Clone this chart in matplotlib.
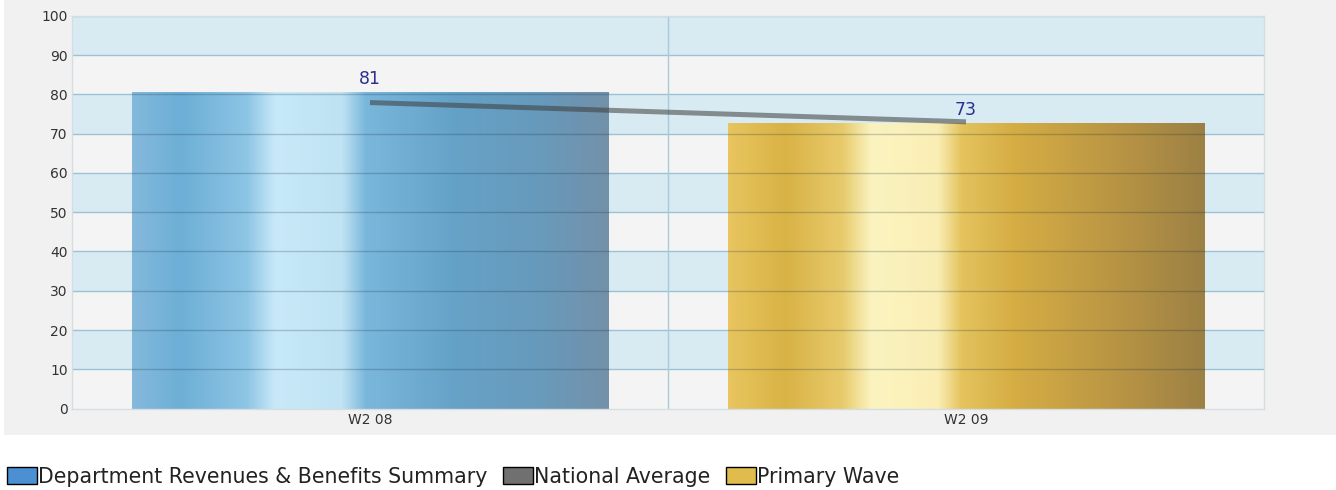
import numpy as np
import matplotlib
matplotlib.use("Agg")
import matplotlib.pyplot as plt
from matplotlib.colors import LinearSegmentedColormap
from matplotlib.patches import Patch, Rectangle

# chart data
categories = ["W2 08", "W2 09"]
bar_values = [80.6, 72.7]
national_avg = [77.9, 73.0]
legend_labels = ["Department Revenues & Benefits Summary", "National Average", "Primary Wave"]
yticks = list(range(0, 101, 10))

blue_stops = [(0.0, "#7cb5da"), (0.1, "#64aad4"), (0.24, "#86c2e4"), (0.3, "#c6e9f9"),
              (0.44, "#bde2f4"), (0.49, "#72b3da"), (0.68, "#5b9cc4"), (0.85, "#5e94b8"),
              (1.0, "#6a8aa4")]
gold_stops = [(0.0, "#e8c254"), (0.12, "#d8ae38"), (0.24, "#e8c862"), (0.3, "#fdf4bc"),
              (0.44, "#fbeeb0"), (0.49, "#e4c052"), (0.6, "#d4a836"), (0.8, "#b89036"),
              (1.0, "#967838")]

fig = plt.figure(figsize=(13.36, 4.9), dpi=100)
fig.patch.set_facecolor("white")
# grey panel behind the plot
fig.patches.append(Rectangle((4 / 1336, 55 / 490), 1, 1 - 55 / 490, transform=fig.transFigure,
                             facecolor="#f1f1f1", edgecolor="none", zorder=-1))

ax = fig.add_axes([72 / 1336, 1 - 408.7 / 490, (1264 - 72) / 1336, (408.7 - 15.7) / 490])
ax.set_zorder(2)

# alternating bands
for i in range(10):
    c = "#d8ebf2" if i % 2 == 1 else "#f4f4f4"
    ax.axhspan(i * 10, i * 10 + 10, color=c, zorder=0, lw=0)
for y in yticks[1:]:
    ax.axhline(y, color="#9cc3d3", lw=1, zorder=1)
ax.axvline(0.5, color="#a9cbd8", lw=1, zorder=1)

bars = ax.bar(range(len(categories)), bar_values, width=0.8, color="none", zorder=2)
for bar, stops in zip(bars, [blue_stops, gold_stops]):
    cmap = LinearSegmentedColormap.from_list("g", stops)
    x0, w = bar.get_x(), bar.get_width()
    h = bar.get_height()
    grad = np.linspace(0, 1, 256).reshape(1, -1)
    im = ax.imshow(grad, cmap=cmap, aspect="auto", extent=(x0, x0 + w, 0, h),
                   zorder=2, alpha=0.93, interpolation="bilinear")
    im.set_clip_path(bar)
    # grid showing through the glassy bar
    for y in yticks[1:]:
        if y < h:
            ax.plot([x0, x0 + w], [y, y], color="#203040", lw=1, alpha=0.22, zorder=2.5)
ax.set_xlim(-0.5, 1.5)
ax.set_ylim(0, 100)

ax.plot(range(len(categories)), national_avg, color="#3c3c3c", lw=3.6, alpha=0.55,
        solid_capstyle="butt", zorder=3)

for i, v in enumerate(bar_values):
    ax.text(i, v + 1.0, f"{round(v):d}", ha="center", va="bottom", color="#2e2e8e",
            fontsize=12.5, zorder=4)

ax.set_xticks(range(len(categories)))
ax.set_xticklabels(categories, fontsize=10, color="#333333")
ax.set_yticks(yticks)
ax.set_yticklabels([str(t) for t in yticks], fontsize=10, color="#333333")
ax.tick_params(length=0, pad=3)
for s in ax.spines.values():
    s.set_color("#d4dde2")
    s.set_linewidth(1)

handles = [Patch(facecolor="#4a90d2", edgecolor="black"),
           Patch(facecolor="#707070", edgecolor="black"),
           Patch(facecolor="#e0bc4c", edgecolor="black")]
fig.legend(handles, legend_labels, loc="center left", bbox_to_anchor=(7 / 1336, 13.5 / 490),
           ncol=3, frameon=False, fontsize=14.8, handlelength=1.46, handleheight=0.87,
           handletextpad=0.05, columnspacing=0.75, borderaxespad=0, borderpad=0,
           labelcolor="#222222")

fig.savefig("out.png", dpi=100)
